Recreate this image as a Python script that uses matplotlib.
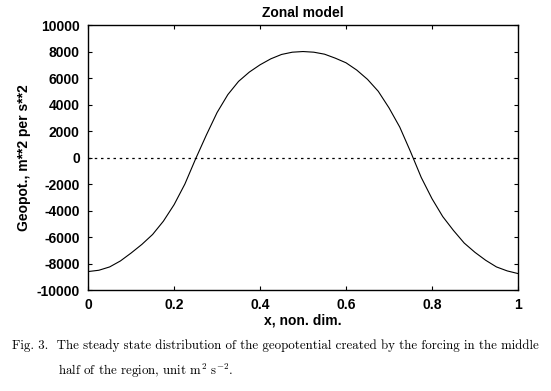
import numpy as np
import matplotlib
matplotlib.use("Agg")
import matplotlib.pyplot as plt

# values (geopotential, m^2 s^-2)
x_pos = np.linspace(0, 1, 41)
geopot = [-8600, -8500, -8250, -7800, -7200, -6550, -5800, -4800, -3550, -2000,
          -100, 1700, 3400, 4750, 5750, 6450, 7000, 7450, 7780, 7950,
          8000, 7950, 7800, 7500, 7150, 6600, 5900, 5000, 3750, 2300,
          450, -1500, -3100, -4450, -5500, -6450, -7150, -7750, -8250, -8550,
          -8750]
y_ticks = [-10000, -8000, -6000, -4000, -2000, 0, 2000, 4000, 6000, 8000, 10000]
x_ticks = [0, 0.2, 0.4, 0.6, 0.8, 1]
x_tick_labels = ["0", "0.2", "0.4", "0.6", "0.8", "1"]

plt.rcParams["font.family"] = ["Liberation Sans", "DejaVu Sans"]
plt.rcParams["mathtext.fontset"] = "cm"

fig = plt.figure(figsize=(5.51, 3.91), dpi=100)
ax = fig.add_axes([0.160, 0.258, 0.780, 0.678])

ax.plot(x_pos, geopot, color="black", linewidth=0.8)
ax.axhline(0, color="black", linestyle=(0, (2, 3)), linewidth=0.9)

ax.set_xlim(0, 1)
ax.set_ylim(-10000, 10000)
ax.set_xticks(x_ticks)
ax.set_xticklabels(x_tick_labels)
ax.set_yticks(y_ticks)
ax.set_yticklabels([str(v) for v in y_ticks])
ax.tick_params(direction="in", top=True, right=True, length=3, width=0.8,
               labelsize=10, pad=6)
for lab in ax.get_xticklabels() + ax.get_yticklabels():
    lab.set_fontweight("bold")
for s in ax.spines.values():
    s.set_linewidth(1.0)

ax.set_title("Zonal model", fontsize=10, fontweight="bold", pad=6)
ax.set_xlabel("x, non. dim.", fontsize=10, fontweight="bold", labelpad=1)
ax.set_ylabel("Geopot., m**2 per s**2", fontsize=10, fontweight="bold", labelpad=4)

fig.text(0.022, 0.115,
         "Fig. 3.  The steady state distribution of the geopotential created by the forcing in the middle",
         fontsize=9.3, family="cmr10", va="center", ha="left")
fig.text(0.105, 0.052,
         r"half of the region, unit m$^2$ s$^{-2}$.",
         fontsize=9.3, family="cmr10", va="center", ha="left")

fig.savefig("out.png", dpi=100)
